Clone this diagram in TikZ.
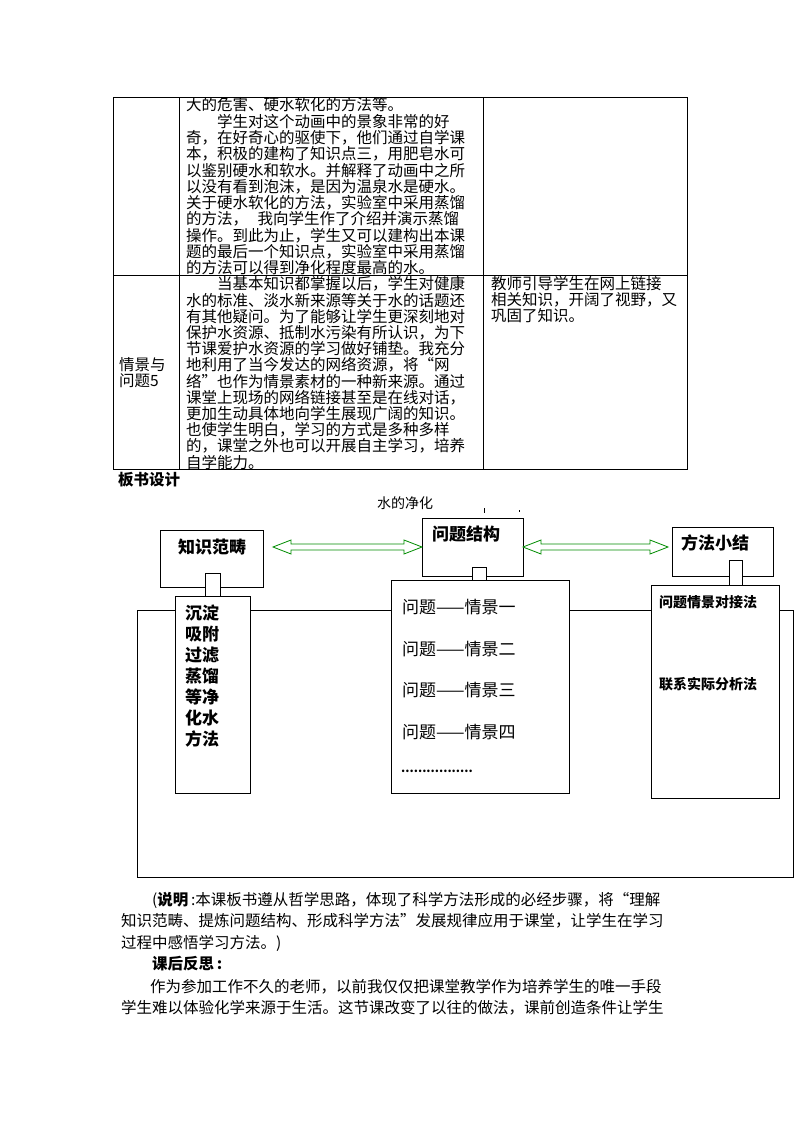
\documentclass[tikz,border=0pt]{standalone}
\usepackage{fontspec}
\setmainfont{Noto Sans CJK SC}
\begin{document}
\begin{tikzpicture}[x=1pt,y=-1pt,
  tx/.style={anchor=west,inner sep=0pt,font=\fontsize{15.5}{16}\selectfont},
  bx/.style={draw,line width=0.9pt,fill=white},
  dg/.style={anchor=west,inner sep=0pt,font=\fontsize{16}{16}\selectfont\bfseries},
  garrow/.style={draw=green!55!black,line width=0.8pt,fill=white}]
\useasboundingbox (0,0) rectangle (800,1132);
% table
\draw[line width=0.8pt] (113,97) rectangle (687,469);
\draw[line width=0.8pt] (113,275) -- (687,275);
\draw[line width=0.8pt] (179,97) -- (179,469);
\draw[line width=0.8pt] (483,97) -- (483,469);
\foreach \t [count=\i] in {大的危害、硬水软化的方法等。,
  \hspace{2em}学生对这个动画中的景象非常的好,
  奇，在好奇心的驱使下，他们通过自学课,
  本，积极的建构了知识点三，用肥皂水可,
  以鉴别硬水和软水。并解释了动画中之所,
  以没有看到泡沫，是因为温泉水是硬水。,
  关于硬水软化的方法，实验室中采用蒸馏,
  的方法，\hspace{0.6em}我向学生作了介绍并演示蒸馏,
  操作。到此为止，学生又可以建构出本课,
  题的最后一个知识点，实验室中采用蒸馏,
  的方法可以得到净化程度最高的水。}
  \node[tx] (r1l\i) at (186,{105+16.3*(\i-1)}) {\t};
\foreach \t [count=\i] in {\hspace{2em}当基本知识都掌握以后，学生对健康,
  水的标准、淡水新来源等关于水的话题还,
  有其他疑问。为了能够让学生更深刻地对,
  保护水资源、抵制水污染有所认识，为下,
  节课爱护水资源的学习做好铺垫。我充分,
  地利用了当今发达的网络资源，将“网,
  络”也作为情景素材的一种新来源。通过,
  课堂上现场的网络链接甚至是在线对话，,
  更加生动具体地向学生展现广阔的知识。,
  也使学生明白，学习的方式是多种多样,
  的，课堂之外也可以开展自主学习，培养,
  自学能力。}
  \node[tx] (r2l\i) at (186,{284+16.2*(\i-1)}) {\t};
\node[tx] (c3a) at (491,284) {教师引导学生在网上链接};
\node[tx] (c3b) at (491,300) {相关知识，开阔了视野，又};
\node[tx] (c3c) at (491,316) {巩固了知识。};
\node[tx] (c1a) at (119,365) {情景与};
\node[tx] (c1b) at (119,381) {问题5};
\node[tx,font=\fontsize{15.5}{16}\selectfont\bfseries] (bs) at (118,480) {板书设计};
\node[tx,font=\fontsize{14}{16}\selectfont] (title) at (377,503) {水的净化};
\draw[line width=0.6pt] (484,508) -- (484,513) (519,510) -- (519,512);
% big frame
\draw[line width=0.8pt] (137,610) rectangle (793,877);
% left column
\draw[bx] (160,530) rectangle (263,587);
\node[dg,font=\fontsize{17}{17}\selectfont\bfseries] (k1) at (178,547) {知识范畴};
\draw[bx] (175,596) rectangle (250,793);
\draw[bx] (205,573) rectangle (220,596);
\foreach \t [count=\i] in {沉淀,吸附,过滤,蒸馏,等净,化水,方法}
  \node[dg,font=\fontsize{17}{17}\selectfont\bfseries] (kl\i) at (185,{613+21*(\i-1)}) {\t};
% middle column
\draw[bx] (422,518) rectangle (523,576);
\node[dg,font=\fontsize{17}{17}\selectfont\bfseries] (k2) at (432,534) {问题结构};
\draw[bx] (391,580) rectangle (569,793);
\draw[bx] (472,567) rectangle (486,580);
\foreach \t [count=\i] in {一,二,三,四}
  \node[tx,font=\fontsize{17}{17}\selectfont] (q\i) at (402,{607+41.7*(\i-1)}) {问题——情景\t};
\node[tx,font=\fontsize{12}{12}\selectfont\bfseries] (dots) at (401,771) {.................};
% right column
\draw[bx] (672,527) rectangle (773,576);
\node[dg,font=\fontsize{17}{17}\selectfont\bfseries] (k3) at (681,543) {方法小结};
\draw[bx] (651,585) rectangle (779,798);
\draw[bx] (729,560) rectangle (742,585);
\node[dg,font=\fontsize{14}{14}\selectfont\bfseries] (m1) at (659,602) {问题情景对接法};
\node[dg,font=\fontsize{14}{14}\selectfont\bfseries] (m2) at (659,684) {联系实际分析法};
% arrows
\draw[garrow] (273,547) -- (291,540) -- (291,544) -- (404,544) -- (404,540) -- (422,547)
  -- (404,554) -- (404,550) -- (291,550) -- (291,554) -- cycle;
\draw[garrow] (523,547) -- (541,540) -- (541,544) -- (650,544) -- (650,540) -- (668,547)
  -- (650,554) -- (650,550) -- (541,550) -- (541,554) -- cycle;
% bottom text
\node[tx] (b1) at (152,900) {(\textbf{说明}\,:本课板书遵从哲学思路，体现了科学方法形成的必经步骤，将“理解};
\node[tx] (b2) at (121,921) {知识范畴、提炼问题结构、形成科学方法”发展规律应用于课堂，让学生在学习};
\node[tx] (b3) at (121,943) {过程中感悟学习方法。)};
\node[tx] (b4) at (152,964) {\textbf{课后反思\,:}};
\node[tx] (b5) at (150,987) {作为参加工作不久的老师，以前我仅仅把课堂教学作为培养学生的唯一手段};
\node[tx] (b6) at (121,1008) {学生难以体验化学来源于生活。这节课改变了以往的做法，课前创造条件让学生};
\end{tikzpicture}
\end{document}
